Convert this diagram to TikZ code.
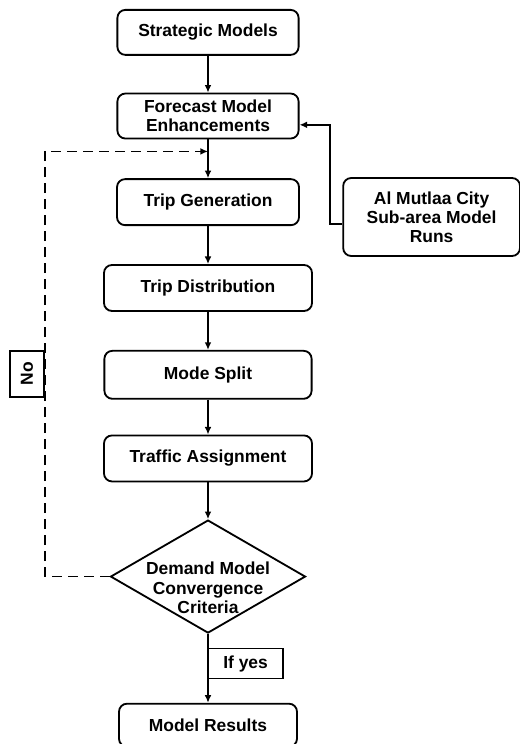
\documentclass[tikz,border=0pt]{standalone}
\usepackage{fontspec}
\setmainfont{Liberation Sans}
\usepackage{tikz}
\usetikzlibrary{arrows, shapes}
\usetikzlibrary{positioning}
\usetikzlibrary{arrows.meta}
\tikzset{>={Latex[width=1.7mm,length=1.9mm]}}
\usetikzlibrary{calc}

\begin{document}
\begin{tikzpicture}[->,line width=1.2pt,node distance=0.92cm,
		font=\fontsize{12.4}{13.6}\selectfont\bfseries]
		\tikzstyle{step box}=[rectangle,rounded corners=0.2cm,draw=black,line width=1.3pt,
			fill=white,text=black,align=center,minimum height=1.125cm]
		\tikzstyle{test}=[diamond,draw=black,line width=1.3pt,
			minimum width=4.875cm,minimum height=2.825cm,inner sep=0pt]
		\tikzstyle{tag}=[rectangle,draw=black,line width=1.3pt,fill=white,inner sep=3pt]
		\useasboundingbox (0,0) rectangle (13,-18.6);
		
		\node[step box,minimum width=4.53cm] (strat) at (5.2,-0.81) {Strategic Models};
		\node[step box,minimum width=4.53cm] (fore) [below=of strat] {Forecast Model\\Enhancements};
		\node[step box,minimum width=4.55cm,minimum height=1.15cm] (tgen) [below=0.97cm of fore] {Trip Generation};
		\node[step box,minimum width=5.2cm,minimum height=1.15cm] (tdist) [below=0.95cm of tgen] {Trip Distribution};
		\node[step box,minimum width=5.18cm,minimum height=1.2cm] (msplit) [below=0.95cm of tdist] {Mode Split};
		\node[step box,minimum width=5.2cm,minimum height=1.15cm] (tassign) [below=0.87cm of msplit] {Traffic Assignment};
		\node[test,label={[align=center,yshift=-0.28cm]center:Demand Model\\Convergence\\Criteria}] (conv) [below=of tassign] {};
		\node[step box,minimum width=4.45cm,minimum height=1.075cm] (mres) [below=1.72cm of conv] {Model Results};
		\node[step box,minimum width=4.42cm,minimum height=1.95cm] (mutlaa) at (10.79,-5.425) {Al Mutlaa City\\Sub-area Model\\Runs};
		\coordinate (join) at ([yshift=-0.3cm]fore.south);
		
		\draw (strat) -- (fore);
		\draw (fore) -- (tgen);
		\draw (tgen) -- (tdist);
		\draw (tdist) -- (msplit);
		\draw (msplit) -- (tassign);
		\draw (tassign) -- (conv);
		\draw (conv) -- node[tag,anchor=west,pos=0.43,xshift=-0.6pt,minimum width=1.875cm,minimum height=0.75cm] (yes) {If yes} (mres);
		\draw ([yshift=-0.18cm]mutlaa.west) -- ++(-0.3,0) |- ([yshift=-0.22cm]fore.east);
		\draw[dashed,dash pattern=on 0.25cm off 0.15cm] (conv.west) -| (1.125,-9.0) |- (join);
		\node[tag,rotate=90,minimum width=1.15cm,minimum height=0.85cm,anchor=south] (no) at (1.125,-9.34) {No};
		\end{tikzpicture}
\end{document}
